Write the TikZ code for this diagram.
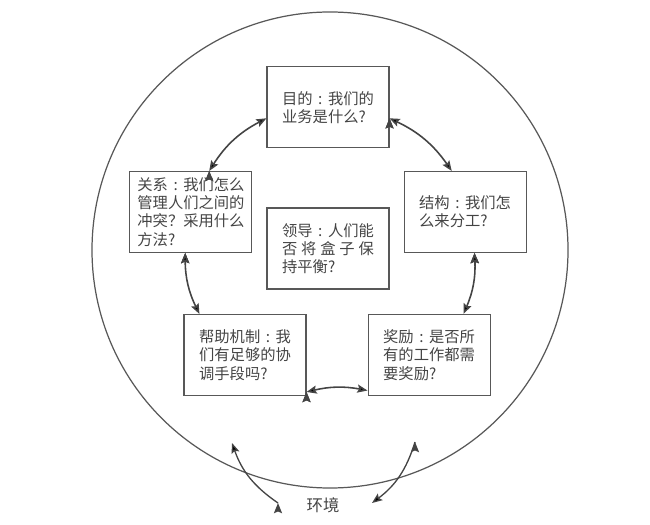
\documentclass[tikz,border=0pt]{standalone}
\usepackage{fontspec}
\setmainfont{Noto Sans CJK SC}
\usepackage{tikz}
\usetikzlibrary{arrows.meta, positioning}

\definecolor{inkgray}{HTML}{444444}
\definecolor{linegray}{HTML}{585858}

\newcommand{\qcolon}{\makebox[1em]{:}}

\tikzset{
  box/.style={draw=linegray, line width=0.6pt, minimum width=2.44cm, minimum height=1.62cm,
    inner sep=1pt, align=left, text=inkgray, font=\fontsize{8.7}{10.4}\selectfont},
  link/.style={{Stealth[length=5.8pt,width=4.6pt,inset=1pt]}-{Stealth[length=5.8pt,width=4.6pt,inset=1pt]},
    line width=0.9pt, draw=inkgray},
  envflow/.style={-{Stealth[length=5.8pt,width=4.6pt,inset=1pt]}, line width=0.75pt, draw=inkgray}
}

\begin{document}
\begin{tikzpicture}
  \useasboundingbox (0,0) rectangle (13,10.48);
  % environment
  \node[circle, draw=linegray, line width=0.7pt, minimum size=9.52cm, inner sep=0pt] (world) at (6.6,5.48) {};

  \node[box] (lead) at (6.56,5.51) {领导\qcolon 人们能\\否\hspace{.25em}将\hspace{.25em}盒\hspace{.25em}子\hspace{.25em}保\\持平衡?};
  \node[box] (goal) [above = 1.18cm of lead] {目的\qcolon 我们的\\业务是什么?};
  \node[box] (rel) [left = 0.28cm of lead, yshift=0.73cm] {关系\qcolon 我们怎么\\管理人们之间的\\冲突？采用什么\\方法?};
  \node[box] (struct) [right = 0.28cm of lead, yshift=0.73cm] {结构\qcolon 我们怎\\么来分工?};
  \node[box] (help) at (4.9,3.38) {帮助机制\qcolon 我\\们有足够的协\\调手段吗?};
  \node[box] (reward) [right = 1.22cm of help] {奖励\qcolon 是否所\\有的工作都需\\要奖励?};

  \path[link] (rel.66) edge [bend left=15] (goal.190);
  \path[link] (goal.350) edge [bend left=15] (struct.108);
  \path[link] (rel.262) edge [bend right=13] (help.138);
  \path[link] (struct.283) edge [bend left=13] (reward.50);
  \path[link] (help.329) edge [bend left=12] (reward.210);

  % outside
  \node[text=inkgray, font=\fontsize{9.3}{11}\selectfont] (env) at (6.46,0.38) {环境};
  \coordinate (inL) at (5.56,0.42);
  \coordinate (inLtip) at (4.64,1.62);
  \coordinate (outR) at (8.30,1.64);
  \coordinate (outRtip) at (7.44,0.42);
  \path[envflow] (inL) edge [bend left=18] (inLtip);
  \path[envflow] (outR) edge [bend left=18] (outRtip);
\end{tikzpicture}
\end{document}
